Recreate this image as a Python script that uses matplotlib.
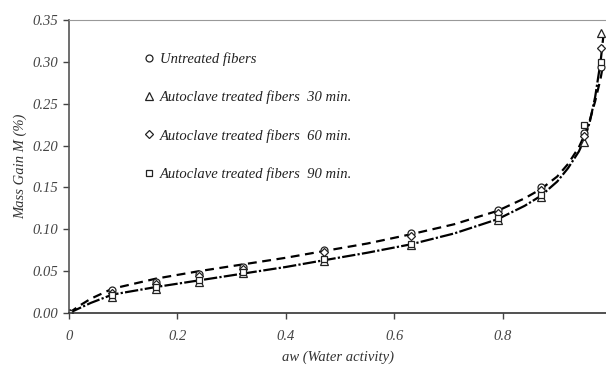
import numpy as np
import matplotlib
matplotlib.use("Agg")
import matplotlib.pyplot as plt

# measured points (aw, mass gain)
aw = [0.0, 0.08, 0.16, 0.24, 0.32, 0.47, 0.63, 0.79, 0.87, 0.95, 0.98]
untreated = [0.0, 0.027, 0.037, 0.046, 0.055, 0.075, 0.095, 0.123, 0.150, 0.215, 0.294]
auto30 = [0.0, 0.019, 0.029, 0.037, 0.048, 0.062, 0.081, 0.111, 0.139, 0.204, 0.335]
auto60 = [0.0, 0.024, 0.035, 0.044, 0.053, 0.073, 0.092, 0.120, 0.147, 0.212, 0.317]
auto90 = [0.0, 0.021, 0.031, 0.039, 0.049, 0.064, 0.083, 0.113, 0.141, 0.225, 0.300]

# model curves
aw_fit = [0.0, 0.02, 0.04, 0.08, 0.16, 0.24, 0.32, 0.40, 0.47, 0.55, 0.63, 0.71, 0.79, 0.84, 0.87, 0.90, 0.92, 0.94, 0.95, 0.96, 0.97, 0.98, 0.985]
fit_upper = [0.0, 0.009, 0.017, 0.029, 0.041, 0.050, 0.058, 0.066, 0.074, 0.083, 0.094, 0.106, 0.122, 0.137, 0.148, 0.163, 0.178, 0.198, 0.212, 0.230, 0.253, 0.280, 0.298]
fit_lower = [0.0, 0.006, 0.012, 0.022, 0.031, 0.039, 0.047, 0.055, 0.063, 0.072, 0.082, 0.095, 0.112, 0.128, 0.140, 0.157, 0.173, 0.193, 0.207, 0.228, 0.258, 0.300, 0.330]

labels = ["Untreated fibers", "Autoclave treated fibers  30 min.",
          "Autoclave treated fibers  60 min.", "Autoclave treated fibers  90 min."]

font = "Liberation Serif"
plt.rcParams["font.family"] = font
plt.rcParams["font.style"] = "italic"

fig = plt.figure(figsize=(6.06, 3.68), dpi=100)
ax = fig.add_axes([69/606, 55/368, 537/606, 293/368])

ax.plot(aw_fit, fit_upper, color="black", lw=1.6, ls=(0, (4, 2.5)))
ax.plot(aw_fit, fit_lower, color="black", lw=1.6, ls=(0, (6, 1, 1, 1)))

mk = dict(ls="none", mfc="white", mec="#222222", mew=0.9)
ax.plot(aw, untreated, marker="o", ms=5, label=labels[0], **mk)
ax.plot(aw, auto30, marker="^", ms=6, label=labels[1], **mk)
ax.plot(aw, auto60, marker="D", ms=4.5, label=labels[2], **mk)
ax.plot(aw, auto90, marker="s", ms=4, label=labels[3], **mk)

ax.set_xlim(0, 0.99)
ax.set_ylim(0, 0.35)
ax.set_xticks([0, 0.2, 0.4, 0.6, 0.8])
ax.set_xticklabels(["0", "0.2", "0.4", "0.6", "0.8"])
ax.set_yticks(np.arange(0, 0.351, 0.05))
ax.set_yticklabels(["%.2f" % v for v in np.arange(0, 0.351, 0.05)])
ax.tick_params(direction="out", length=4, width=1, colors="#444444", labelsize=10.5, labelcolor="#444444")
ax.tick_params(axis="x", pad=8)

ax.spines["right"].set_visible(False)
ax.spines["top"].set_color("#999999")
ax.spines["left"].set_color("#555555")
ax.spines["bottom"].set_color("#333333")
ax.spines["left"].set_linewidth(1.2)
ax.spines["bottom"].set_linewidth(1.2)

ax.set_xlabel("aw (Water activity)", fontsize=10.5, color="#333333", labelpad=6)
ax.set_ylabel("Mass Gain M (%)", fontsize=10.5, color="#333333", labelpad=4)

ax.legend(loc="upper left", bbox_to_anchor=(0.12, 0.915), frameon=False, fontsize=10.5,
          labelspacing=1.68, handletextpad=0.1, handlelength=1.2, borderpad=0,
          labelcolor="#222222")

fig.savefig("out.png", dpi=100)
